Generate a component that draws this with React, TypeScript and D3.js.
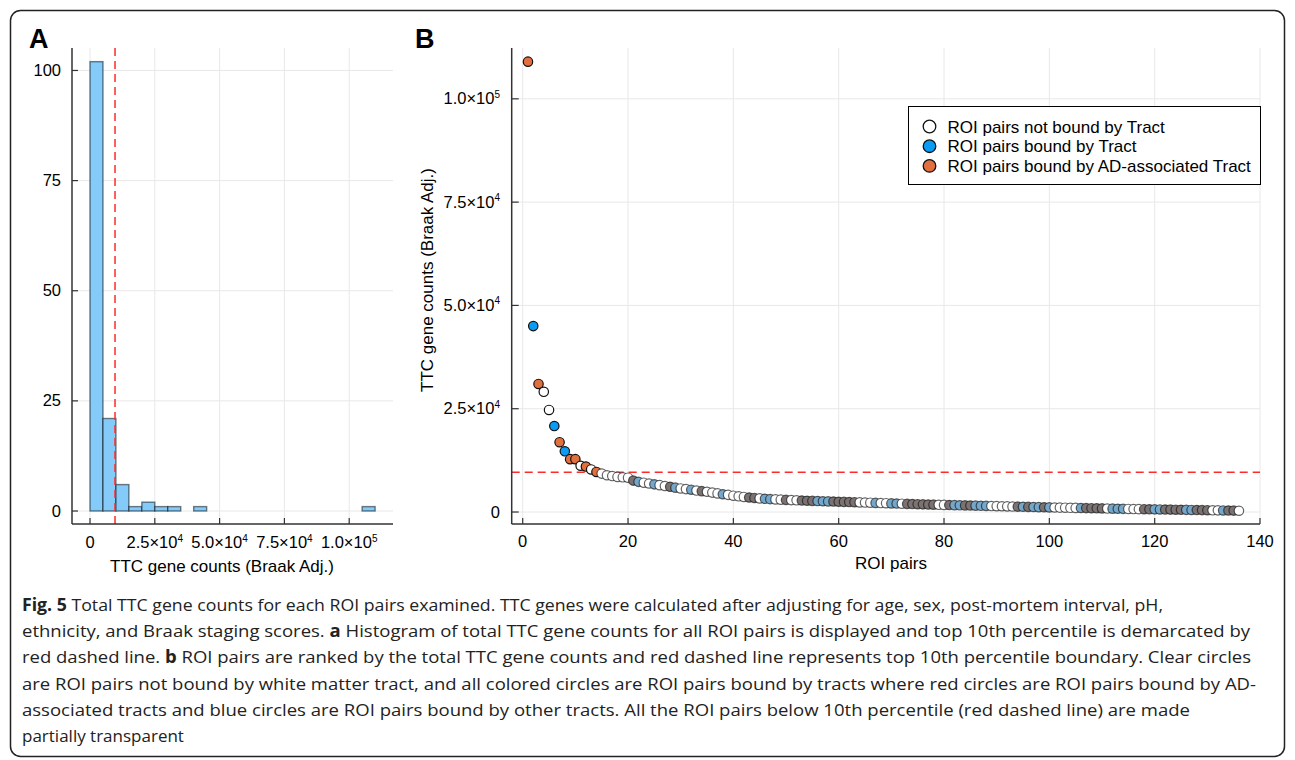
import React from 'react';
import * as d3 from 'd3';

// ---------- Panel A: histogram ----------
const histBinStarts = [0, 5000, 10000, 15000, 20000, 25000, 30000, 35000, 40000, 45000, 50000, 55000, 60000, 65000, 70000, 75000, 80000, 85000, 90000, 95000, 100000, 105000];
const histBinWidth = 5000;
const histCounts = [102, 21, 6, 1, 2, 1, 1, 0, 1, 0, 0, 0, 0, 0, 0, 0, 0, 0, 0, 0, 0, 1];
const histXTicks = [0, 25000, 50000, 75000, 100000];
const histXTickLabels = [
  { m: '0', e: '' },
  { m: '2.5×10', e: '4' },
  { m: '5.0×10', e: '4' },
  { m: '7.5×10', e: '4' },
  { m: '1.0×10', e: '5' },
];
const histYTicks = [0, 25, 50, 75, 100];
const percentileCutoff = 9650;

// ---------- Panel B: ranked ROI pairs ----------
const roiCounts = [
  109000, 45000, 31000, 29100, 24700, 20800, 16900, 14700, 12800, 12800,
  11200, 11000, 10300, 9700, 9300, 8900, 8700, 8500, 8400, 8300,
  7600, 7300, 7100, 6900, 6700, 6500, 6300, 6100, 5900, 5700,
  5550, 5400, 5200, 5050, 4900, 4700, 4500, 4300, 4150, 3950,
  3800, 3650, 3500, 3400, 3300, 3200, 3120, 3050, 2990, 2930,
  2880, 2830, 2780, 2730, 2690, 2650, 2610, 2570, 2530, 2490,
  2450, 2410, 2370, 2330, 2290, 2250, 2210, 2170, 2130, 2090,
  2050, 2010, 1970, 1930, 1890, 1850, 1810, 1780, 1750, 1720,
  1690, 1660, 1630, 1600, 1570, 1540, 1510, 1480, 1450, 1420,
  1390, 1360, 1330, 1300, 1270, 1240, 1210, 1180, 1150, 1120,
  1095, 1070, 1045, 1020, 995, 970, 945, 920, 895, 870,
  845, 820, 795, 770, 745, 720, 700, 680, 660, 640,
  620, 600, 580, 560, 540, 520, 500, 480, 460, 440,
  420, 400, 380, 360, 340, 310,
];
// n = not bound by tract, t = bound by tract, a = bound by AD-associated tract
const roiTract = [
  'a', 't', 'a', 'n', 'n', 't', 'a', 't', 'a', 'a',
  'n', 'a', 'n', 'a', 'n', 'n', 'n', 'n', 'n', 'n',
  'a', 't', 'n', 'n', 't', 'n', 'n', 'a', 't', 'n',
  'n', 't', 'n', 'a', 'n', 'n', 'n', 't', 'n', 'n',
  'n', 'n', 'a', 'a', 'n', 't', 't', 'n', 'n', 'a',
  'n', 'n', 'a', 'a', 'a', 't', 't', 't', 'a', 'a',
  'a', 'a', 'a', 'n', 'n', 'n', 't', 'n', 'n', 't',
  't', 'n', 'a', 'a', 'a', 'a', 'a', 'a', 'n', 'n',
  'a', 't', 't', 'a', 'a', 't', 't', 't', 'n', 'n',
  'n', 'n', 'n', 'a', 't', 'a', 't', 't', 'a', 't',
  'n', 'n', 'n', 'n', 'n', 't', 'a', 'a', 'a', 'a',
  'n', 't', 't', 't', 'n', 'n', 'n', 'a', 'a', 't',
  't', 'a', 'a', 'a', 'a', 't', 't', 'a', 'a', 'a',
  'n', 'n', 't', 'a', 'a', 'n',
];
const roiXTicks = [0, 20, 40, 60, 80, 100, 120, 140];
const roiYTicks = [0, 25000, 50000, 75000, 100000];
const roiYTickLabels = [
  { m: '0', e: '' },
  { m: '2.5×10', e: '4' },
  { m: '5.0×10', e: '4' },
  { m: '7.5×10', e: '4' },
  { m: '1.0×10', e: '5' },
];
const legendLabels = [
  { k: 'n', label: 'ROI pairs not bound by Tract' },
  { k: 't', label: 'ROI pairs bound by Tract' },
  { k: 'a', label: 'ROI pairs bound by AD-associated Tract' },
];

const captionLines = [
  { parts: [{ b: true, t: 'Fig. 5' }, { b: false, t: ' Total TTC gene counts for each ROI pairs examined. TTC genes were calculated after adjusting for age, sex, post-mortem interval, pH,' }], w: 1141 },
  { parts: [{ b: false, t: 'ethnicity, and Braak staging scores. ' }, { b: true, t: 'a' }, { b: false, t: ' Histogram of total TTC gene counts for all ROI pairs is displayed and top 10th percentile is demarcated by' }], w: 1228 },
  { parts: [{ b: false, t: 'red dashed line. ' }, { b: true, t: 'b' }, { b: false, t: ' ROI pairs are ranked by the total TTC gene counts and red dashed line represents top 10th percentile boundary. Clear circles' }], w: 1229 },
  { parts: [{ b: false, t: 'are ROI pairs not bound by white matter tract, and all colored circles are ROI pairs bound by tracts where red circles are ROI pairs bound by AD-' }], w: 1234 },
  { parts: [{ b: false, t: 'associated tracts and blue circles are ROI pairs bound by other tracts. All the ROI pairs below 10th percentile (red dashed line) are made' }], w: 1168 },
  { parts: [{ b: false, t: 'partially transparent' }], w: 0 },
];

const FONT = '"Liberation Sans", Arial, Helvetica, sans-serif';
const GRID = '#e8e8e8';
const AXIS = '#333';
const RED = '#ff2a2a';
const TICK_FS = 16.5;
const TITLE_FS = 17;

const solidFill: Record<string, string> = { n: '#ffffff', t: '#0a9bf5', a: '#e2703f' };
const fadedFill: Record<string, string> = { n: '#ffffff', t: '#74a7ca', a: '#7b7272' };

function Sup({ m, e, ...rest }: any) {
  return (
    <text {...rest}>
      <tspan>{m}</tspan>
      {e ? <tspan dy={-6.5} fontSize={10}>{e}</tspan> : null}
    </text>
  );
}

export default function App() {
  // Panel A scales
  const ax = d3.scaleLinear().domain([-6950, 116900]).range([72, 393]);
  const ay = d3.scaleLinear().domain([-2.95, 105.1]).range([524, 48]);
  // Panel B scales
  const bx = d3.scaleLinear().domain([-2.09, 140]).range([511.7, 1260]);
  const by = d3.scaleLinear().domain([-2900, 112300]).range([524, 48]);

  const aLeft = ax.range()[0], aRight = ax.range()[1];
  const aTop = ay.range()[1], aBottom = ay.range()[0];
  const bLeft = bx.range()[0], bRight = bx.range()[1];
  const bTop = by.range()[1], bBottom = by.range()[0];

  return (
    <svg width={1295} height={760} style={{ position: 'absolute', left: 0, top: 0, display: 'block', background: '#fff' }} fontFamily={FONT}>
      <rect x={10.5} y={10.5} width={1274} height={746} rx={10} ry={10} fill="#fff" stroke="#222" strokeWidth={1.5} />

      {/* ---------- Panel A ---------- */}
      <text x={29} y={48} fontSize={27} fontWeight="bold" fill="#000">A</text>
      <g>
        {histXTicks.map((t) => (
          <line key={'agx' + t} x1={ax(t)} x2={ax(t)} y1={aTop} y2={aBottom} stroke={GRID} strokeWidth={1} />
        ))}
        {histYTicks.map((t) => (
          <line key={'agy' + t} x1={aLeft} x2={aRight} y1={ay(t)} y2={ay(t)} stroke={GRID} strokeWidth={1} />
        ))}
        {histBinStarts.map((s, i) => {
          const x0 = ax(s), x1 = ax(s + histBinWidth);
          const y0 = ay(histCounts[i]), yb = ay(0);
          return (
            <rect key={'bar' + i} x={x0} y={y0} width={x1 - x0} height={Math.max(0, yb - y0)}
              fill="#84cbf9" stroke="#000" strokeOpacity={0.5} strokeWidth={1.4} />
          );
        })}
        <line x1={ax(percentileCutoff)} x2={ax(percentileCutoff)} y1={aTop} y2={aBottom} stroke={RED} strokeWidth={1.5} strokeDasharray="8,5" />
        <line x1={aLeft} x2={aLeft} y1={aTop} y2={aBottom} stroke={AXIS} strokeWidth={1.5} />
        <line x1={aLeft} x2={aRight} y1={aBottom} y2={aBottom} stroke={AXIS} strokeWidth={1.5} />
        {histXTicks.map((t) => (
          <line key={'axt' + t} x1={ax(t)} x2={ax(t)} y1={aBottom} y2={aBottom - 6} stroke={AXIS} strokeWidth={1.2} />
        ))}
        {histYTicks.map((t) => (
          <line key={'ayt' + t} x1={aLeft} x2={aLeft + 6} y1={ay(t)} y2={ay(t)} stroke={AXIS} strokeWidth={1.2} />
        ))}
        {histXTicks.map((t, i) => (
          <Sup key={'axl' + t} m={histXTickLabels[i].m} e={histXTickLabels[i].e} x={ax(t)} y={548} fontSize={TICK_FS} textAnchor="middle" fill="#000" />
        ))}
        {histYTicks.map((t) => (
          <text key={'ayl' + t} x={61} y={ay(t) + 5.5} fontSize={TICK_FS} textAnchor="end" fill="#000">{t}</text>
        ))}
        <text x={222} y={572} fontSize={TITLE_FS} textAnchor="middle" fill="#000">TTC gene counts (Braak Adj.)</text>
      </g>

      {/* ---------- Panel B ---------- */}
      <text x={415} y={48} fontSize={27} fontWeight="bold" fill="#000">B</text>
      <g>
        {roiXTicks.map((t) => (
          <line key={'bgx' + t} x1={bx(t)} x2={bx(t)} y1={bTop} y2={bBottom} stroke={GRID} strokeWidth={1} />
        ))}
        {roiYTicks.map((t) => (
          <line key={'bgy' + t} x1={bLeft} x2={bRight} y1={by(t)} y2={by(t)} stroke={GRID} strokeWidth={1} />
        ))}
        <line x1={bLeft} x2={bRight} y1={by(percentileCutoff)} y2={by(percentileCutoff)} stroke={RED} strokeWidth={1.5} strokeDasharray="8,5" />
        {roiCounts.map((v, i) => {
          const above = v >= percentileCutoff;
          const k = roiTract[i];
          return (
            <circle key={'pt' + i} cx={bx(i + 1)} cy={by(v)} r={4.7}
              fill={above ? solidFill[k] : fadedFill[k]}
              stroke="#111" strokeOpacity={above ? 1 : 0.65} strokeWidth={1.2} />
          );
        })}
        <line x1={bLeft} x2={bLeft} y1={bTop} y2={bBottom} stroke={AXIS} strokeWidth={1.5} />
        <line x1={bLeft} x2={bRight} y1={bBottom} y2={bBottom} stroke={AXIS} strokeWidth={1.5} />
        {roiXTicks.map((t) => (
          <line key={'bxt' + t} x1={bx(t)} x2={bx(t)} y1={bBottom} y2={bBottom - 6} stroke={AXIS} strokeWidth={1.2} />
        ))}
        {roiYTicks.map((t) => (
          <line key={'byt' + t} x1={bLeft} x2={bLeft + 7} y1={by(t)} y2={by(t)} stroke={AXIS} strokeWidth={1.2} />
        ))}
        {roiXTicks.map((t) => (
          <text key={'bxl' + t} x={bx(t)} y={547} fontSize={TICK_FS} textAnchor="middle" fill="#000">{t}</text>
        ))}
        {roiYTickLabels.map((lb, i) => (
          <Sup key={'byl' + i} m={lb.m} e={lb.e} x={500} y={by(roiYTicks[i]) + 5.5} fontSize={TICK_FS} textAnchor="end" fill="#000" />
        ))}
        <text x={891} y={569} fontSize={TITLE_FS} textAnchor="middle" fill="#000">ROI pairs</text>
        <text transform={`translate(433,280) rotate(-90)`} fontSize={TITLE_FS} textAnchor="middle" fill="#000">TTC gene counts (Braak Adj.)</text>

        {/* legend */}
        <rect x={908.5} y={106.5} width={352} height={78} fill="#fff" stroke="#000" strokeWidth={1} />
        {legendLabels.map((d, i) => (
          <g key={'lg' + d.k}>
            <circle cx={929.5} cy={126.5 + i * 19.7} r={6.3} fill={solidFill[d.k]} stroke="#111" strokeWidth={1.3} />
            <text x={947.5} y={126.5 + i * 19.7 + 6} fontSize={TITLE_FS} fill="#000">{d.label}</text>
          </g>
        ))}
      </g>

      {/* ---------- Caption ---------- */}
      <g fontFamily='"Open Sans", "Noto Sans", sans-serif' fontSize={17} fill="#222">
        {captionLines.map((ln, i) => (
          <text key={'cap' + i} x={22} y={611 + i * 26.2}
            {...(ln.w ? { textLength: ln.w, lengthAdjust: 'spacingAndGlyphs' } : {})}>
            {ln.parts.map((p, j) => (
              <tspan key={j} fontWeight={p.b ? 'bold' : 'normal'}>{p.t}</tspan>
            ))}
          </text>
        ))}
      </g>
    </svg>
  );
}
